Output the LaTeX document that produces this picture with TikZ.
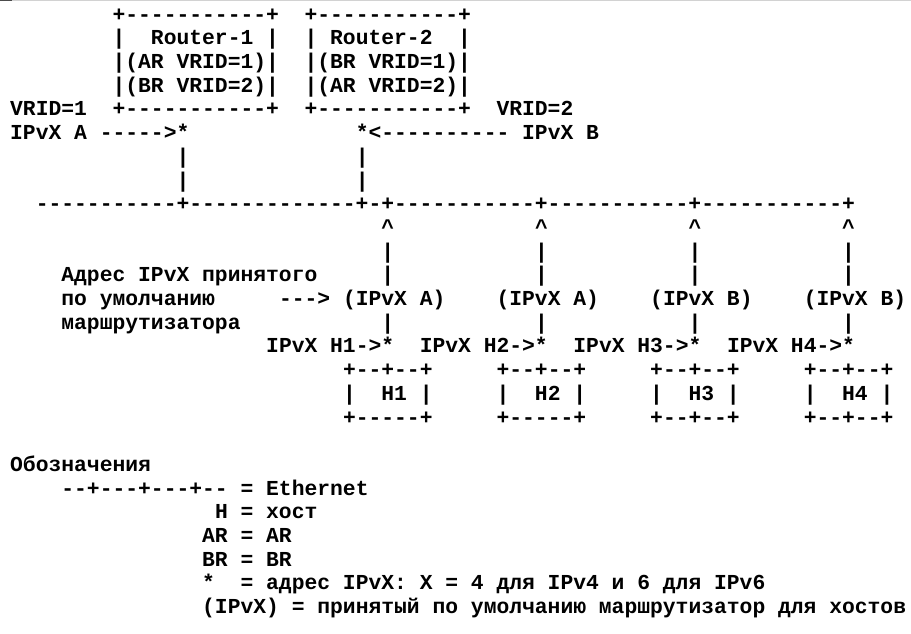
\documentclass[tikz,border=0pt]{standalone}
\usepackage{fontspec}
\setmonofont{Liberation Mono}
\frenchspacing
\begin{document}
\begin{tikzpicture}[x=12.8pt,y=-23.7pt]
  \tikzstyle{ascii}=[anchor=base west,inner sep=0pt,font=\ttfamily\bfseries\fontsize{21.33}{23.7}\selectfont]
  \useasboundingbox (-10pt,-2.6pt) rectangle (901pt,-636.6pt);
  % edge of the screenshot
  \draw[gray!35,line width=1pt] (-10pt,-3.3pt) -- (901pt,-3.3pt);
  \draw[black!70,line width=1pt] (-10pt,-3.3pt) -- (2pt,-3.3pt);
  % the two routers
  \node[ascii] (rtrtop) at (8,1) {+-----------+~~+-----------+};
  \node[ascii] (rtrname) at (8,2) {|~~Router-1~|~~|~Router-2~~|};
  \node[ascii] (rtrvrid1) at (8,3) {|(AR VRID=1)|~~|(BR VRID=1)|};
  \node[ascii] (rtrvrid2) at (8,4) {|(BR VRID=2)|~~|(AR VRID=2)|};
  \node[ascii] (rtrbot) at (0,5) {VRID=1~~+-----------+~~+-----------+~~VRID=2};
  \node[ascii] (ipa) at (0,6) {IPvX A ----->*};
  \node[ascii] (ipb) at (27,6) {*<---------- IPvX B};
  \foreach \c in {13,27}
    \foreach \r in {7,8}
      \node[ascii] (drop\c-\r) at (\c,\r) {|};
  % the lan
  \node[ascii] (lan) at (2,9) {-----------+-------------+-+-----------+-----------+-----------+};
  % the hosts
  \foreach \c in {29,41,53,65} {
    \node[ascii] (up\c) at (\c,10) {\textasciicircum};
    \node[ascii] (bar\c) at (\c,11) {|};
    \node[ascii] (mid\c) at (\c,12) {|};
    \node[ascii] (low\c) at (\c,14) {|};
  }
  \node[ascii] (note1) at (4,12) {Адрес IPvX принятого};
  \node[ascii] (note2) at (4,13) {по умолчанию};
  \node[ascii] (note3) at (4,14) {маршрутизатора};
  \node[ascii] (notearrow) at (21,13) {--->};
  \foreach \c/\gw in {26/A,38/A,50/B,62/B}
    \node[ascii] (gw\c) at (\c,13) {(IPvX \gw)};
  \foreach \c/\h in {20/1,32/2,44/3,56/4} {
    \node[ascii] (haddr\h) at (\c,15) {IPvX H\h->*};
    \node[ascii] (htop\h) at (\c+6,16) {+--+--+};
    \node[ascii] (hname\h) at (\c+6,17) {|~~H\h~|};
  }
  \node[ascii] (hbot1) at (26,18) {+-----+};
  \node[ascii] (hbot2) at (38,18) {+-----+};
  \node[ascii] (hbot3) at (50,18) {+--+--+};
  \node[ascii] (hbot4) at (62,18) {+--+--+};
  % legend
  \node[ascii] (legend) at (0,20) {Обозначения};
  \node[ascii] (legeth) at (4,21) {--+---+---+-- = Ethernet};
  \node[ascii] (leghost) at (16,22) {H = хост};
  \node[ascii] (legar) at (15,23) {AR = AR};
  \node[ascii] (legbr) at (15,24) {BR = BR};
  \node[ascii] (legaddr) at (15,25) {*~~= адрес IPvX: X = 4 для IPv4 и 6 для IPv6};
  \node[ascii] (leggw) at (15,26) {(IPvX) = принятый по умолчанию маршрутизатор для хостов};
\end{tikzpicture}
\end{document}
